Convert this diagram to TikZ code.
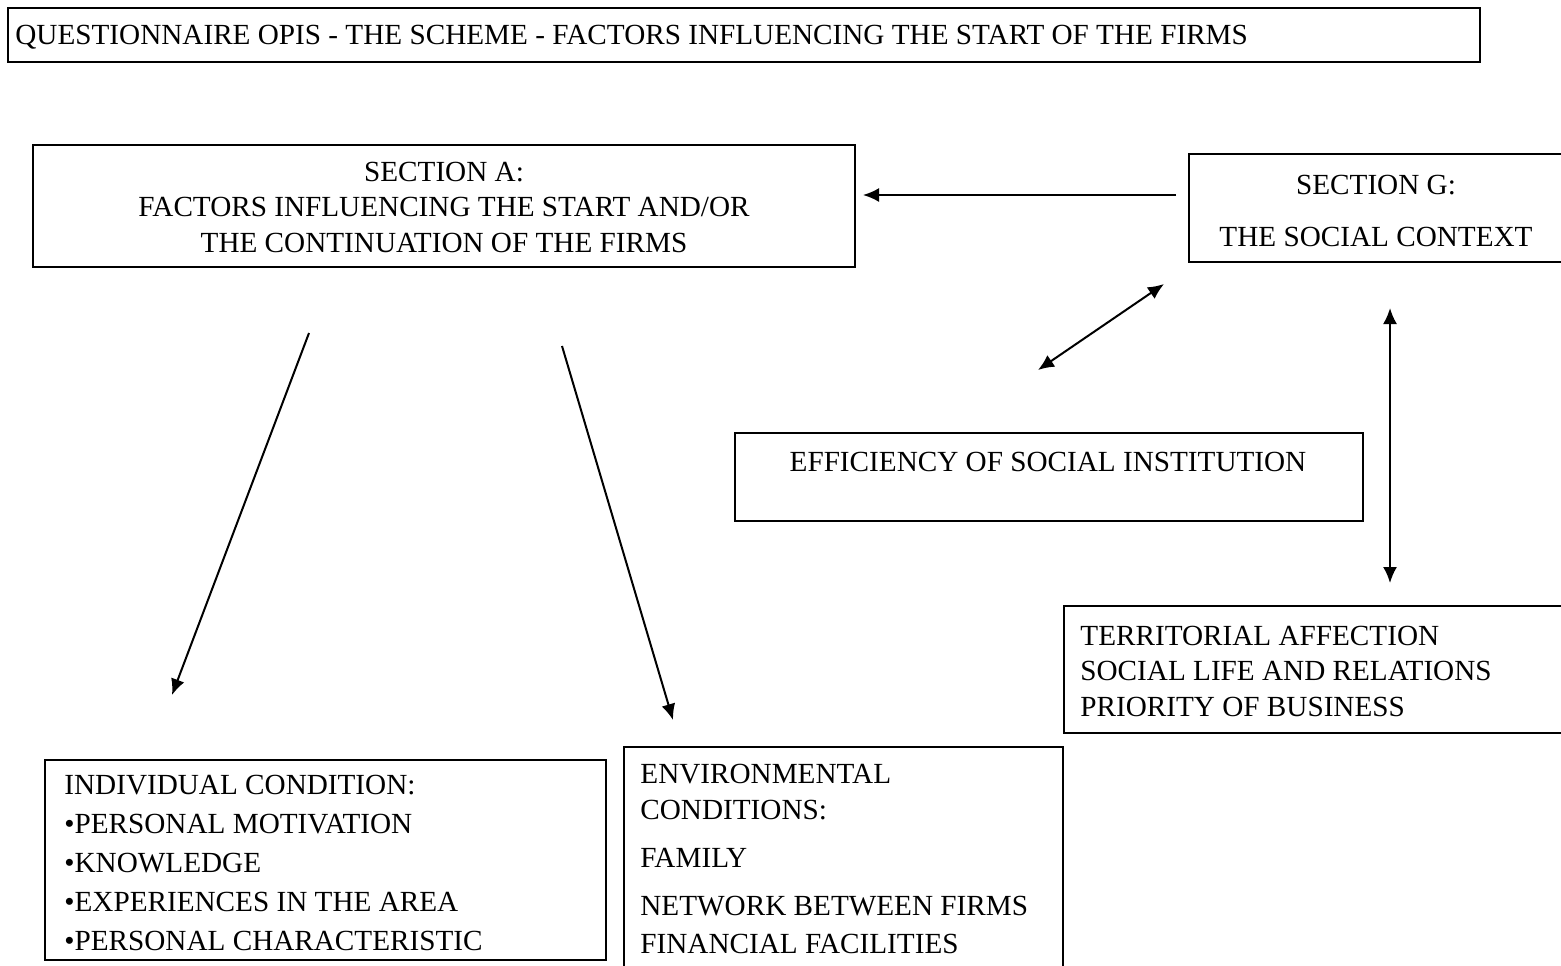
\documentclass[tikz,border=0pt]{standalone}
\usepackage{fontspec}
\setmainfont{Liberation Serif}
\usetikzlibrary{arrows.meta}
\usetikzlibrary{fit}
\usetikzlibrary{positioning}
\tikzset{box/.style = {draw, line width = 0.8pt, inner sep = 0, fit = {#1}}}
\tikzset{txt/.style = {inner sep = 0, font = \fontsize{14.6}{17.75}\selectfont}}
\tikzset{arr/.style = {line width = 1pt, -{Latex[length = 8pt, width = 7pt]}}}
\tikzset{dbl/.style = {line width = 1pt, {Latex[length = 8pt, width = 7pt]}-{Latex[length = 8pt, width = 7pt]}}}

\begin{document}
\begin{tikzpicture}[x = 0.5pt, y = -0.5pt]
        \useasboundingbox (0, 0) rectangle (1561, 965);

        % boxes
        \node [box = {(8, 8) (1480, 62)}] (title) {};
        \node [box = {(33, 145) (855, 267)}] (secA) {};
        \node [box = {(1189, 154) (1570, 262)}] (secG) {};
        \node [box = {(735, 433) (1363, 521)}] (effic) {};
        \node [box = {(1064, 606) (1570, 733)}] (territ) {};
        \node [box = {(45, 760) (606, 960)}] (indiv) {};
        \node [box = {(624, 747) (1063, 975)}] (envir) {};

        % texts (base = last line)
        \node [txt, anchor = base west] (titletxt) at (15, 44)
              {QUESTIONNAIRE OPIS - THE SCHEME - FACTORS INFLUENCING THE START OF THE FIRMS};
        \node [txt, anchor = base, align = center] (secAtxt) at (444, 252)
              {SECTION A:\\ FACTORS INFLUENCING THE START AND/OR\\ THE CONTINUATION OF THE FIRMS};
        \node [txt, anchor = base, align = center, font = \fontsize{14.6}{26}\selectfont] (secGtxt) at (1376, 246)
              {SECTION G:\\ THE SOCIAL CONTEXT};
        \node [txt, anchor = base] (effictxt) at (1048, 471) {EFFICIENCY OF SOCIAL INSTITUTION};
        \node [txt, anchor = base west, align = left] (territtxt) at (1080, 716)
              {TERRITORIAL AFFECTION\\ SOCIAL LIFE AND RELATIONS\\ PRIORITY OF BUSINESS};
        \node [txt, anchor = base west, align = left, font = \fontsize{14.6}{19.5}\selectfont] (indivtxt) at (64, 950)
              {INDIVIDUAL CONDITION:\\ •PERSONAL MOTIVATION\\ •KNOWLEDGE\\
               •EXPERIENCES IN THE AREA\\ •PERSONAL CHARACTERISTIC};
        \node [txt, anchor = base west, align = left, font = \fontsize{14.6}{18}\selectfont] (envirtxt) at (640, 953)
              {ENVIRONMENTAL\\ CONDITIONS:\\[6pt] FAMILY\\[6pt] NETWORK BETWEEN FIRMS\\[1pt] FINANCIAL FACILITIES};

        % arrow ends
        \coordinate (gl) at (1176, 195);
        \coordinate (ar) at (863, 195);
        \coordinate (gd) at (1164, 284);
        \coordinate (eu) at (1038, 370);
        \coordinate (gb) at (1390, 308);
        \coordinate (tt) at (1390, 583);
        \coordinate (al) at (309, 333);
        \coordinate (it) at (172, 695);
        \coordinate (am) at (562, 346);
        \coordinate (et) at (673, 720);

        \draw [arr] (gl) -- (ar);
        \draw [dbl] (gd) -- (eu);
        \draw [dbl] (gb) -- (tt);
        \draw [arr] (al) -- (it);
        \draw [arr] (am) -- (et);
\end{tikzpicture}
\end{document}
